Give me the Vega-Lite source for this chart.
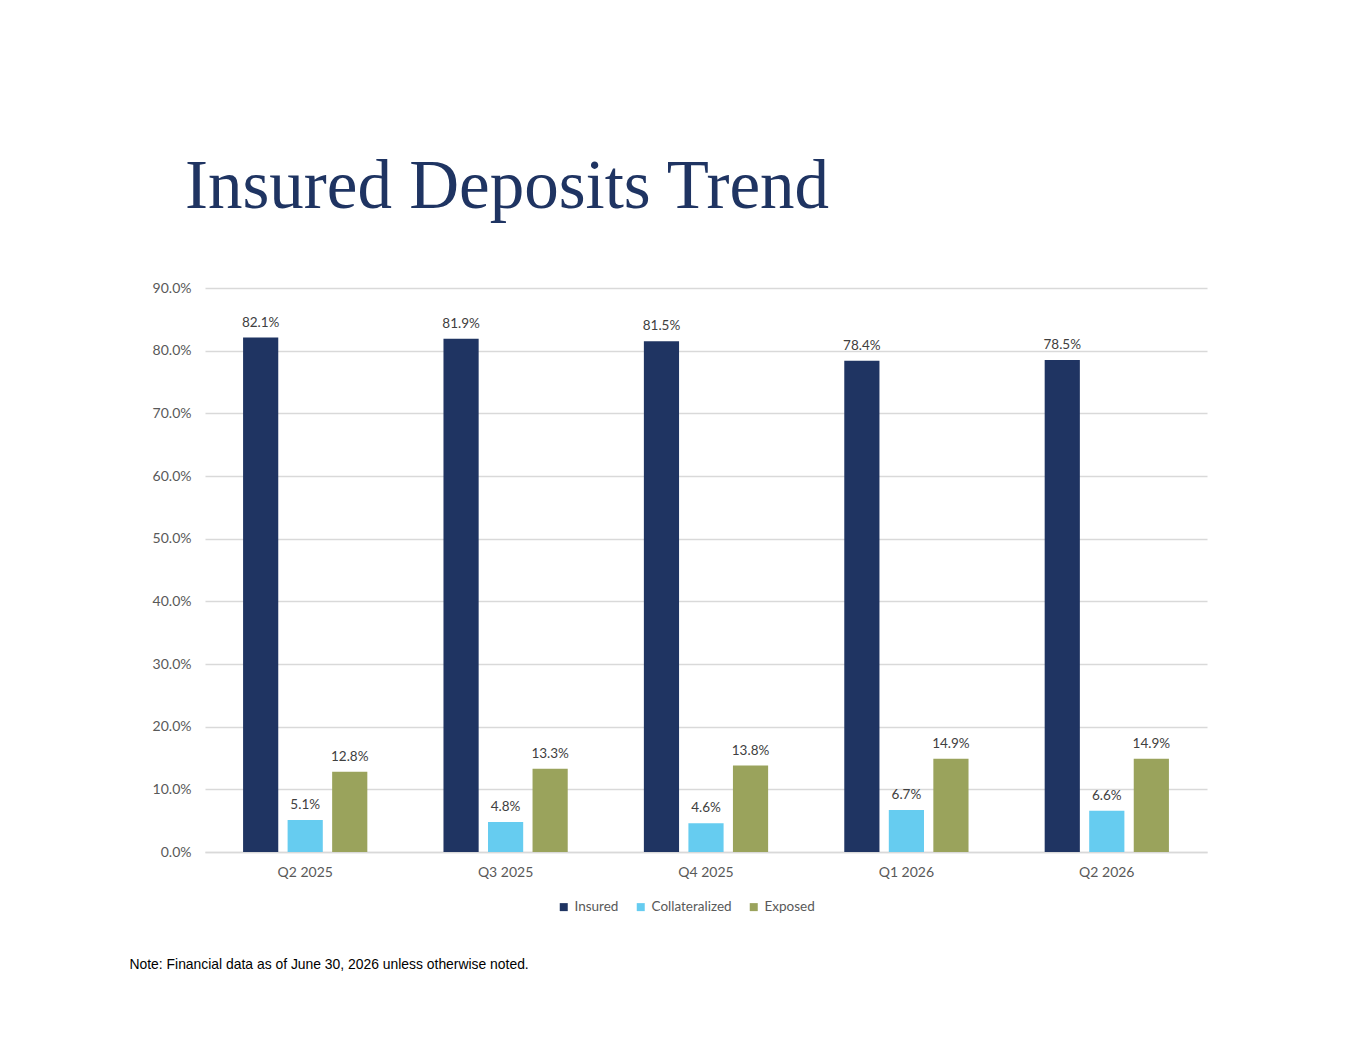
{
  "$schema": "https://vega.github.io/schema/vega-lite/v6.json",
  "autosize": "none",
  "width": 1002,
  "height": 564,
  "padding": {"left": 205, "top": 288, "right": 158, "bottom": 203},
  "background": "white",
  "title": {
    "text": "Insured Deposits Trend",
    "anchor": "start",
    "frame": "group",
    "dx": -20,
    "offset": 4,
    "baseline": "alphabetic",
    "font": "Liberation Serif",
    "fontSize": 69,
    "fontWeight": "normal",
    "color": "#1F3462"
  },
  "data": {
    "values": [
      {"quarter": "Q2 2025", "type": "Insured", "share": 0.821},
      {"quarter": "Q2 2025", "type": "Collateralized", "share": 0.051},
      {"quarter": "Q2 2025", "type": "Exposed", "share": 0.128},
      {"quarter": "Q3 2025", "type": "Insured", "share": 0.819},
      {"quarter": "Q3 2025", "type": "Collateralized", "share": 0.048},
      {"quarter": "Q3 2025", "type": "Exposed", "share": 0.133},
      {"quarter": "Q4 2025", "type": "Insured", "share": 0.815},
      {"quarter": "Q4 2025", "type": "Collateralized", "share": 0.046},
      {"quarter": "Q4 2025", "type": "Exposed", "share": 0.138},
      {"quarter": "Q1 2026", "type": "Insured", "share": 0.784},
      {"quarter": "Q1 2026", "type": "Collateralized", "share": 0.067},
      {"quarter": "Q1 2026", "type": "Exposed", "share": 0.149},
      {"quarter": "Q2 2026", "type": "Insured", "share": 0.785},
      {"quarter": "Q2 2026", "type": "Collateralized", "share": 0.066},
      {"quarter": "Q2 2026", "type": "Exposed", "share": 0.149}
    ]
  },
  "encoding": {
    "x": {
      "field": "quarter",
      "type": "nominal",
      "sort": ["Q2 2025", "Q3 2025", "Q4 2025", "Q1 2026", "Q2 2026"],
      "scale": {"paddingInner": 0.38, "paddingOuter": 0.19},
      "axis": {
        "title": "Note: Financial data as of June 30, 2026 unless otherwise noted.",
        "titleFont": "Liberation Sans",
        "titleFontSize": 13.9,
        "titleFontWeight": "normal",
        "titleColor": "#000000",
        "titleAlign": "left",
        "titleBaseline": "alphabetic",
        "titleX": -76,
        "titleY": 116,
        "labelAngle": 0,
        "labelFont": "Lato",
        "labelFontSize": 14,
        "labelColor": "#595959",
        "labelPadding": 13,
        "ticks": false,
        "domainColor": "#d9d9d9",
        "domainWidth": 1.5
      }
    },
    "xOffset": {
      "field": "type",
      "type": "nominal",
      "sort": ["Insured", "Collateralized", "Exposed"],
      "scale": {"paddingInner": 0.21, "paddingOuter": 0}
    },
    "y": {
      "field": "share",
      "type": "quantitative",
      "scale": {"domain": [0, 0.9]},
      "axis": {
        "title": null,
        "format": ".1%",
        "values": [0, 0.1, 0.2, 0.3, 0.4, 0.5, 0.6, 0.7, 0.8, 0.9],
        "labelFont": "Lato",
        "labelFontSize": 14,
        "labelColor": "#595959",
        "labelPadding": 14,
        "ticks": false,
        "domain": false,
        "gridColor": "#d9d9d9",
        "gridWidth": 1.5
      }
    }
  },
  "layer": [
    {
      "mark": {"type": "bar"},
      "encoding": {
        "color": {
          "field": "type",
          "type": "nominal",
          "sort": ["Insured", "Collateralized", "Exposed"],
          "scale": {
            "domain": ["Insured", "Collateralized", "Exposed"],
            "range": ["#1F3462", "#66CCF0", "#9AA35C"]
          },
          "legend": {
            "title": null,
            "orient": "none",
            "direction": "horizontal",
            "legendX": 352,
            "legendY": 612,
            "symbolType": "square",
            "symbolSize": 64,
            "symbolStrokeWidth": 0,
            "symbolOpacity": 1,
            "labelFont": "Lato",
            "labelFontSize": 13.5,
            "labelColor": "#595959",
            "labelOffset": 4,
            "columnPadding": 15
          }
        }
      }
    },
    {
      "mark": {
        "type": "text",
        "baseline": "bottom",
        "dy": -8,
        "font": "Lato",
        "fontSize": 13.5,
        "color": "#404040"
      },
      "encoding": {
        "text": {"field": "share", "type": "quantitative", "format": ".1%"}
      }
    }
  ],
  "config": {
    "view": {"stroke": null}
  }
}
